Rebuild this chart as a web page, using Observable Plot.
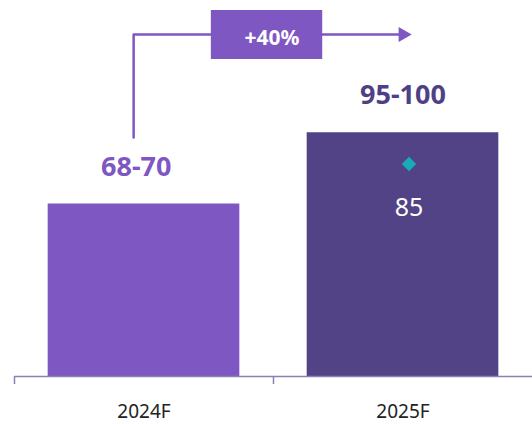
<!DOCTYPE html>
<html>
<head>
<meta charset="utf-8">
<script src="https://cdn.jsdelivr.net/npm/d3@7"></script>
<script src="https://cdn.jsdelivr.net/npm/@observablehq/plot@0.6"></script>
<style>
  html, body { margin: 0; padding: 0; background: #ffffff; }
  #chart svg { display: block; }
</style>
</head>
<body>
<div id="chart"></div>
<script>
// ---- data ----
const categories = ["2024F", "2025F"];
const rangeMid = [69, 97.5];            // midpoint of forecast range (bar height)
const rangeLabels = ["68-70", "95-100"];
const pointCategory = ["2025F"];
const pointValues = [85];               // point estimate marker
const pointLabels = ["85"];
const growthLabels = ["+40%"];
// growth connector (x in category-index units, y in value units)
const connectorX = [0.46, 0.46, 1.5];
const connectorY = [95.6, 136.8, 136.8];
const growthBoxX = [0.76, 1.19];
const growthBoxY = [126.8, 146.4];

// ---- styles ----
const barColors = ["#7e57c2", "#514386"];
const labelColors = ["#7e57c2", "#4e3f86"];
const labelShift = [-0.03, 0];           // small horizontal nudge of range labels
const accent = "#7e57c2";
const teal = "#19abb5";
const axisColor = "#8a80b8";

const bars = categories.map((c, i) => ({cat: c, i, value: rangeMid[i], label: rangeLabels[i], color: barColors[i], lc: labelColors[i], shift: labelShift[i]}));
const points = pointCategory.map((c, k) => ({i: categories.indexOf(c), value: pointValues[k], label: pointLabels[k]}));
const connector = connectorX.map((x, k) => ({x, y: connectorY[k]}));
const font = "'Noto Sans', sans-serif";

const chart = Plot.plot({
  width: 532,
  height: 424,
  marginLeft: 14,
  marginRight: 0,
  marginTop: 0,
  marginBottom: 48,
  style: {fontFamily: font, background: "#ffffff"},
  x: {domain: [0, 2], axis: null},
  y: {domain: [0, 150.4], axis: null},
  marks: [
    Plot.rectY(bars, {x1: d => d.i + 0.13, x2: d => d.i + 0.87, y: "value", fill: d => d.color}),
    Plot.ruleY([0], {stroke: axisColor, strokeWidth: 1.5}),
    Plot.axisX({ticks: [0, 1], tickSize: 8, tickFormat: () => "", label: null, stroke: axisColor, strokeWidth: 1.5}),
    Plot.text(bars, {x: d => d.i + 0.5, y: 0, text: "cat", dy: 35, fontSize: 19, fill: "#222222", lineAnchor: "middle"}),
    Plot.text(bars, {x: d => d.i + 0.5 + d.shift, y: "value", text: "label", dy: -37, fontSize: 27, fontWeight: "bold", letterSpacing: 1, fill: d => d.lc, lineAnchor: "middle"}),
    Plot.dot(points, {x: d => d.i + 0.5, y: "value", dx: 6, symbol: "diamond2", r: 6.5, fill: teal, stroke: null}),
    Plot.text(points, {x: d => d.i + 0.5, y: "value", text: "label", dx: 6, dy: 44, fontSize: 25, fill: "#ffffff", lineAnchor: "middle"}),
    Plot.line(connector, {x: "x", y: "y", stroke: accent, strokeWidth: 2.5, curve: "linear"}),
    Plot.dot([connector[connector.length - 1]], {x: "x", y: "y", symbol: "triangle", rotate: 90, r: 5.6, fill: accent, stroke: null}),
    Plot.rect(growthLabels, {x1: growthBoxX[0], x2: growthBoxX[1], y1: growthBoxY[0], y2: growthBoxY[1], fill: accent}),
    Plot.text(growthLabels, {x: (growthBoxX[0] + growthBoxX[1]) / 2, y: (growthBoxY[0] + growthBoxY[1]) / 2, text: d => d, dx: 5, dy: 3, fontSize: 21, fontWeight: "bold", fill: "#ffffff", lineAnchor: "middle"})
  ]
});
document.getElementById("chart").appendChild(chart);
</script>
</body>
</html>
